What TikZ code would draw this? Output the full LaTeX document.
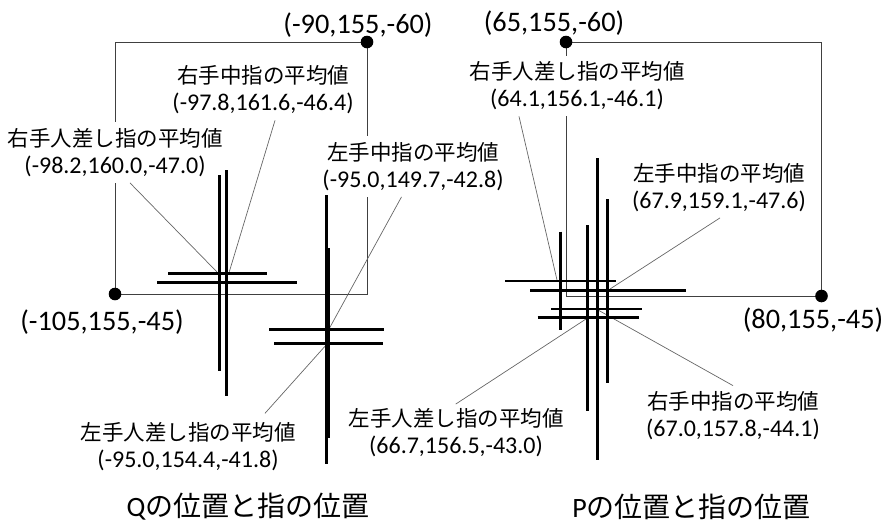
\documentclass[tikz,border=0pt]{standalone}
\usepackage{fontspec}
\setmainfont{Carlito}
\newfontfamily\jp{Noto Sans CJK JP}
\newcommand\jl[1]{{\jp\fontsize{21.5}{27}\selectfont #1}}
\tikzset{
  frame/.style={draw=black!75, line width=1pt},
  leader/.style={draw=black!60, line width=0.7pt},
  bar/.style={draw=black, line width=2.8pt},
  lbl/.style={fill=white, align=center, inner xsep=2pt, inner ysep=6pt, font=\fontsize{24}{27}\selectfont},
  coordlbl/.style={inner sep=0pt, font=\fontsize{28.3}{30}\selectfont},
  ttl/.style={inner sep=0pt, font=\fontsize{28}{30}\selectfont},
}
\begin{document}
\begin{tikzpicture}[x=1pt,y=-1pt]
\useasboundingbox (0,0) rectangle (888,523);
% corner points
\coordinate (QA) at (367,42);
\coordinate (QB) at (115,294);
\coordinate (PA) at (566,42);
\coordinate (PB) at (821.5,296);
% frames
\draw[frame] (QB) rectangle (QA);
\draw[frame] (PA) rectangle (PB);
% labels, left panel
\node[coordlbl] (qtop) at (358,25) {(-90,155,-60)};
\node[coordlbl] (qbot) at (102,322) {(-105,155,-45)};
\node[lbl] (L3) at (263,90) {\jl{右手中指の平均値}\\(-97.8,161.6,-46.4)};
\node[lbl] (L4) at (115,152.5) {\jl{右手人差し指の平均値}\\(-98.2,160.0,-47.0)};
\node[lbl] (L5) at (413,166.5) {\jl{左手中指の平均値}\\(-95.0,149.7,-42.8)};
\node[lbl] (L6) at (188,446.7) {\jl{左手人差し指の平均値}\\(-95.0,154.4,-41.8)};
\node[ttl] (tq) at (248,506.7) {Q{\jp の位置と指の位置}};
% labels, right panel
\node[coordlbl] (ptop) at (554,23) {(65,155,-60)};
\node[coordlbl] (pbot) at (813,320) {(80,155,-45)};
\node[lbl] (R2) at (577,86) {\jl{右手人差し指の平均値}\\(64.1,156.1,-46.1)};
\node[lbl] (R3) at (719,187.5) {\jl{左手中指の平均値}\\(67.9,159.1,-47.6)};
\node[lbl] (R4) at (733,416) {\jl{右手中指の平均値}\\(67.0,157.8,-44.1)};
\node[lbl] (R5) at (456,432.5) {\jl{左手人差し指の平均値}\\(66.7,156.5,-43.0)};
\node[ttl] (tp) at (691.5,506.7) {P{\jp の位置と指の位置}};
% leader targets
\coordinate (q4) at (217,272);
\coordinate (q3) at (229.3,271.7);
\coordinate (q5) at (329,329);
\coordinate (q6) at (327,344);
\coordinate (p2) at (557,280);
\coordinate (p3) at (610,289);
\coordinate (p4) at (598,310);
\coordinate (p5) at (586,319);
% leaders
\draw[leader] ([xshift=15pt]L4.south) -- (q4);
\draw[leader] ([xshift=12pt]L3.south) -- (q3);
\draw[leader] ([xshift=-11.5pt]L5.south) -- (q5);
\draw[leader] ([xshift=77pt,yshift=3pt]L6.north) -- (q6);
\draw[leader] ([xshift=-58pt]R2.south) -- (p2);
\draw[leader] ([xshift=1pt]R3.south) -- (p3);
\draw[leader] ([xshift=0pt]R4.north) -- (p4);
\draw[leader] ([xshift=-0.3pt,yshift=-2pt]R5.north) -- (p5);
% left panel bars (right hand)
\draw[bar] (219.3,175) -- (219.3,371);
\draw[bar] (226.7,170) -- (226.7,396);
\draw[bar] (168,273.3) -- (267,273.3);
\draw[bar] (157,282.7) -- (297,282.7);
% left panel bars (left hand)
\draw[bar] (326.7,195) -- (326.7,464);
\draw[bar] (328.6,248) -- (328.6,438);
\draw[bar] (269,329.3) -- (384,329.3);
\draw[bar] (274,343.3) -- (383,343.3);
% right panel bars
\draw[bar] (560.3,231.7) -- (560.3,330);
\draw[bar] (587.5,225) -- (587.5,411);
\draw[bar] (597.2,158.3) -- (597.2,460);
\draw[bar] (607.5,199) -- (607.5,383.3);
\draw[bar] (505,281) -- (616,281);
\draw[bar] (530,290.5) -- (685.7,290.5);
\draw[bar] (551,309) -- (642.3,309);
\draw[bar] (537.5,317.3) -- (639,317.3);
% corner dots
\fill (QA) circle (6.3);
\fill (QB) circle (6.3);
\fill (PA) circle (6.3);
\fill (PB) circle (6.3);
\end{tikzpicture}
\end{document}
